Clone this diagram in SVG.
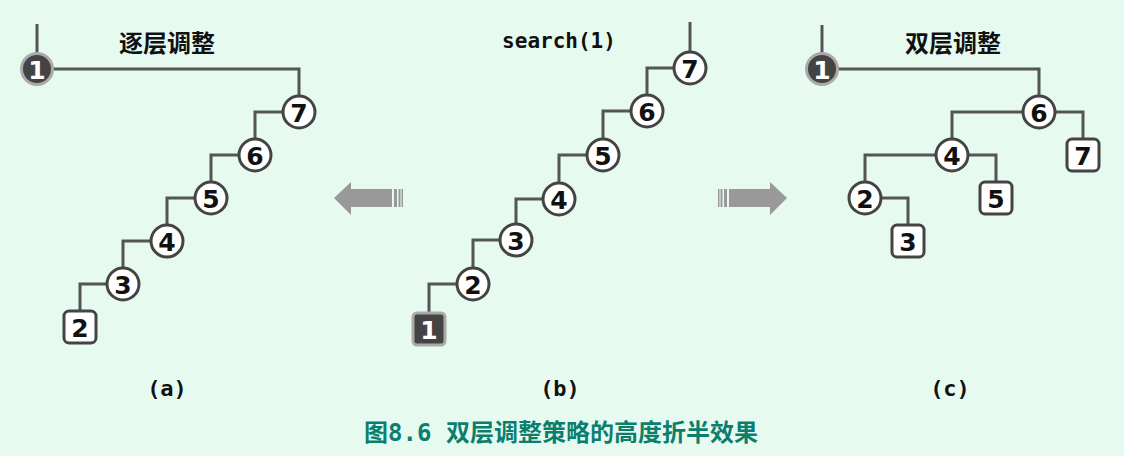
<svg xmlns="http://www.w3.org/2000/svg" width="1124" height="456" viewBox="0 0 1124 456">
<style>
.bg{fill:#e7faf0}
.edge{fill:none;stroke:#555;stroke-width:3}
.cn{fill:#fff;stroke:#444;stroke-width:3}
.dn{fill:#444;stroke:#aaa;stroke-width:3}
.num{font-family:"DejaVu Sans","Liberation Sans",sans-serif;font-weight:bold;font-size:25px;text-anchor:middle;dominant-baseline:central;fill:#111}
.wnum{fill:#fff}
.title{font-family:"Noto Sans CJK SC","Noto Sans",sans-serif;font-weight:bold;font-size:24px;text-anchor:middle;fill:#111}
.mono{font-family:"DejaVu Sans Mono","Liberation Mono",monospace;font-weight:bold;font-size:21px;text-anchor:middle;fill:#111}
.lab{font-family:"DejaVu Sans Mono","Liberation Mono",monospace;font-weight:bold;font-size:22px;text-anchor:middle;fill:#111}
.cap{font-family:"Noto Sans CJK SC","Noto Sans",sans-serif;font-weight:bold;font-size:24px;text-anchor:middle;fill:#0b7f6e}
.arrow{fill:#999}
</style>
<rect class="bg" x="0" y="0" width="1124" height="456"/>

<g id="connectors">
  <!-- (a) -->
  <path class="edge" d="M37,24 V54"/>
  <path class="edge" d="M53,69 H299 V96"/>
  <path class="edge" d="M283,112 H255 V139"/>
  <path class="edge" d="M239,155 H211 V182"/>
  <path class="edge" d="M195,198 H167 V225"/>
  <path class="edge" d="M151,241 H123 V268"/>
  <path class="edge" d="M107,284 H80 V310"/>
  <!-- (b) -->
  <path class="edge" d="M690,22 V52"/>
  <path class="edge" d="M674,68 H647 V95"/>
  <path class="edge" d="M631,111 H603 V139"/>
  <path class="edge" d="M587,155 H559 V183"/>
  <path class="edge" d="M543,199 H516 V224"/>
  <path class="edge" d="M500,240 H473 V268"/>
  <path class="edge" d="M457,284 H429 V312"/>
  <!-- (c) -->
  <path class="edge" d="M822,25 V54"/>
  <path class="edge" d="M838,69 H1039 V96"/>
  <path class="edge" d="M1023,112 H952 V139"/>
  <path class="edge" d="M1055,112 H1083 V138"/>
  <path class="edge" d="M936,155 H865 V182"/>
  <path class="edge" d="M968,155 H996 V181"/>
  <path class="edge" d="M881,198 H908 V224"/>
</g>

<!-- Panel (a) -->
<text class="title" x="167" y="52">逐层调整</text>
<g id="a1"><circle class="dn" cx="37" cy="69" r="15.5"/><text class="num wnum" x="37" y="70">1</text></g>
<g id="a7"><circle class="cn" cx="299" cy="112" r="16"/><text class="num" x="299" y="113">7</text></g>
<g id="a6"><circle class="cn" cx="255" cy="155" r="16"/><text class="num" x="255" y="156">6</text></g>
<g id="a5"><circle class="cn" cx="211" cy="198" r="16"/><text class="num" x="211" y="199">5</text></g>
<g id="a4"><circle class="cn" cx="167" cy="241" r="16"/><text class="num" x="167" y="242">4</text></g>
<g id="a3"><circle class="cn" cx="123" cy="284" r="16"/><text class="num" x="123" y="285">3</text></g>
<g id="a2"><rect class="cn" x="64" y="311" width="32" height="32" rx="5"/><text class="num" x="80" y="328">2</text></g>
<text class="lab" x="167" y="396">(a)</text>

<!-- Panel (b) -->
<text class="mono" x="559" y="48">search(1)</text>
<g id="b7"><circle class="cn" cx="690" cy="68" r="16"/><text class="num" x="690" y="69">7</text></g>
<g id="b6"><circle class="cn" cx="647" cy="111" r="16"/><text class="num" x="647" y="112">6</text></g>
<g id="b5"><circle class="cn" cx="603" cy="155" r="16"/><text class="num" x="603" y="156">5</text></g>
<g id="b4"><circle class="cn" cx="559" cy="199" r="16"/><text class="num" x="559" y="200">4</text></g>
<g id="b3"><circle class="cn" cx="516" cy="240" r="16"/><text class="num" x="516" y="241">3</text></g>
<g id="b2"><circle class="cn" cx="473" cy="284" r="16"/><text class="num" x="473" y="285">2</text></g>
<g id="b1"><rect class="dn" x="413" y="313" width="32" height="32" rx="4"/><text class="num wnum" x="429" y="330">1</text></g>
<text class="lab" x="560" y="396">(b)</text>

<!-- Arrows -->
<g id="arrow-left" class="arrow">
  <polygon points="334,198 351,182 351,189 392,189 392,207 351,207 351,215"/>
  <rect x="394" y="189" width="3" height="18"/>
  <rect x="398.5" y="189" width="2" height="18"/>
  <rect x="401.5" y="189" width="1.5" height="18"/>
</g>
<g id="arrow-right" class="arrow">
  <polygon points="787,198 770,182 770,189 729,189 729,207 770,207 770,215"/>
  <rect x="724" y="189" width="3" height="18"/>
  <rect x="720.5" y="189" width="2" height="18"/>
  <rect x="718" y="189" width="1.5" height="18"/>
</g>

<!-- Panel (c) -->
<text class="title" x="953" y="52">双层调整</text>
<g id="c1"><circle class="dn" cx="822" cy="69" r="15.5"/><text class="num wnum" x="822" y="70">1</text></g>
<g id="c6"><circle class="cn" cx="1039" cy="112" r="16"/><text class="num" x="1039" y="113">6</text></g>
<g id="c4"><circle class="cn" cx="952" cy="155" r="16"/><text class="num" x="952" y="156">4</text></g>
<g id="c7"><rect class="cn" x="1067" y="139" width="32" height="32" rx="5"/><text class="num" x="1083" y="156">7</text></g>
<g id="c2"><circle class="cn" cx="865" cy="198" r="16"/><text class="num" x="865" y="199">2</text></g>
<g id="c5"><rect class="cn" x="980" y="182" width="32" height="32" rx="5"/><text class="num" x="996" y="199">5</text></g>
<g id="c3"><rect class="cn" x="892" y="225" width="32" height="32" rx="5"/><text class="num" x="908" y="242">3</text></g>
<text class="lab" x="950" y="396">(c)</text>

<text class="cap" x="561" y="441">图<tspan font-family="'DejaVu Sans Mono','Liberation Mono',monospace">8.6 </tspan>双层调整策略的高度折半效果</text>
</svg>
